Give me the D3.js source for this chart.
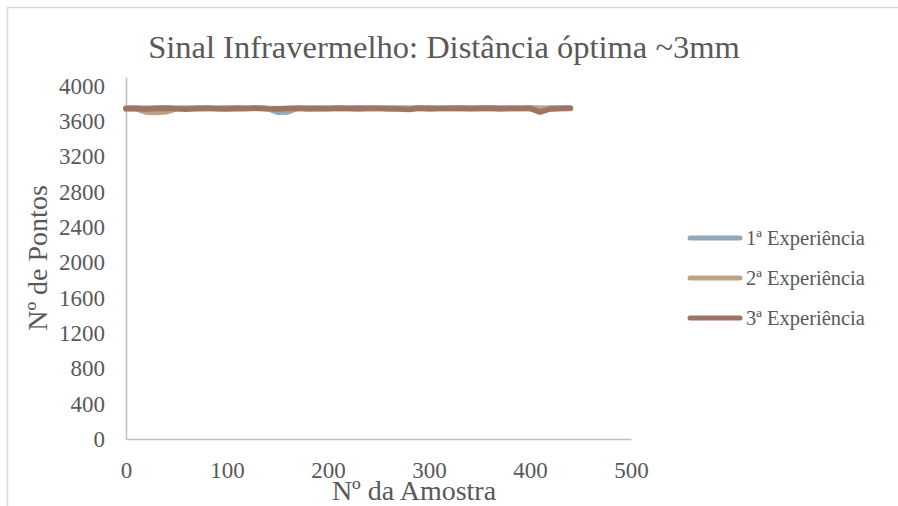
<!DOCTYPE html>
<html><head><meta charset="utf-8">
<script src="https://cdn.jsdelivr.net/npm/d3@7"></script>
<style>body{margin:0;background:#fff;}svg{display:block;}</style>
</head><body>
<svg id="c" width="898" height="506"></svg>
<script>
const title = "Sinal Infravermelho: Distância óptima ~3mm";
const xTitle = "Nº da Amostra";
const yTitle = "Nº de Pontos";
const seriesNames = ["1ª Experiência", "2ª Experiência", "3ª Experiência"];
const seriesColors = ["#91A8BA", "#BCA385", "#9E7462"];
const xTicks = [0, 100, 200, 300, 400, 500];
const yTicks = [0, 400, 800, 1200, 1600, 2000, 2400, 2800, 3200, 3600, 4000];
const sampleX = [0,10,20,30,40,50,60,70,80,90,100,110,120,130,140,150,160,170,180,190,200,210,220,230,240,250,260,270,280,290,300,310,320,330,340,350,360,370,380,390,400,410,420,430,440];
const exp1 = [3748,3750,3746,3749,3751,3747,3745,3750,3748,3746,3749,3751,3747,3748,3745,3702,3705,3746,3749,3747,3750,3748,3746,3751,3749,3747,3750,3748,3746,3749,3751,3747,3750,3748,3752,3749,3751,3748,3750,3747,3749,3746,3748,3750,3747];
const exp2 = [3744,3742,3702,3698,3706,3743,3745,3741,3744,3742,3745,3740,3743,3745,3741,3744,3742,3745,3740,3743,3746,3742,3744,3741,3745,3743,3740,3744,3742,3745,3741,3743,3745,3742,3744,3746,3743,3741,3744,3742,3745,3743,3741,3744,3742];
const exp3 = [3740,3744,3738,3742,3745,3740,3736,3743,3745,3741,3738,3744,3742,3746,3740,3737,3743,3745,3741,3744,3739,3745,3742,3740,3744,3746,3741,3738,3732,3745,3740,3744,3742,3745,3739,3743,3746,3741,3744,3742,3745,3703,3738,3744,3745];
const seriesValues = [exp1, exp2, exp3];

const svg = d3.select("#c");
const txt = "#595959";
const font = "Liberation Serif, Times New Roman, serif";

svg.append("rect").attr("x", 7.5).attr("y", 7.5).attr("width", 1000).attr("height", 1000)
  .attr("fill", "#fff").attr("stroke", "#D9D9D9").attr("stroke-width", 1.5);

const x = d3.scaleLinear().domain([0, 500]).range([126, 631]);
const y = d3.scaleLinear().domain([0, 4100]).range([439, 77]);

// axes
const xAxis = svg.append("g").attr("transform", `translate(0,${y(0)})`)
  .call(d3.axisBottom(x).tickValues(xTicks).tickSize(0).tickPadding(23).tickFormat(d3.format("d")));
const yAxis = svg.append("g").attr("transform", `translate(${x(0)},0)`)
  .call(d3.axisLeft(y).tickValues(yTicks).tickSize(0).tickPadding(21).tickFormat(d3.format("d")));
[xAxis, yAxis].forEach(a => {
  a.attr("font-family", font).attr("font-size", 23);
  a.select(".domain").attr("stroke", "#BFBFBF").attr("stroke-width", 1.5);
  a.selectAll("text").attr("fill", txt);
});

// lines
const line = d3.line().x((d, i) => x(sampleX[i])).y(d => y(d)).curve(d3.curveLinear);
seriesValues.forEach((vals, k) => {
  svg.append("path").datum(vals).attr("d", line).attr("fill", "none")
    .attr("stroke", seriesColors[k]).attr("stroke-width", 5.5)
    .attr("stroke-linecap", "round").attr("stroke-linejoin", "round");
});

// title
svg.append("text").attr("x", 444).attr("y", 58).attr("text-anchor", "middle")
  .attr("fill", txt).attr("font-family", font).attr("font-size", 32.5).text(title);

svg.append("text").attr("x", 414).attr("y", 500).attr("text-anchor", "middle")
  .attr("fill", txt).attr("font-family", font).attr("font-size", 28).text(xTitle);

svg.append("text").attr("transform", "translate(47,258) rotate(-90)").attr("text-anchor", "middle")
  .attr("fill", txt).attr("font-family", font).attr("font-size", 28).text(yTitle);

// legend
const lg = svg.append("g");
seriesNames.forEach((n, k) => {
  const ly = 238 + k * 40;
  lg.append("line").attr("x1", 690).attr("x2", 740).attr("y1", ly).attr("y2", ly)
    .attr("stroke", seriesColors[k]).attr("stroke-width", 5).attr("stroke-linecap", "round");
  lg.append("text").attr("x", 746).attr("y", ly + 7).attr("fill", txt)
    .attr("font-family", font).attr("font-size", 20.5).text(n);
});
</script>
</body></html>
